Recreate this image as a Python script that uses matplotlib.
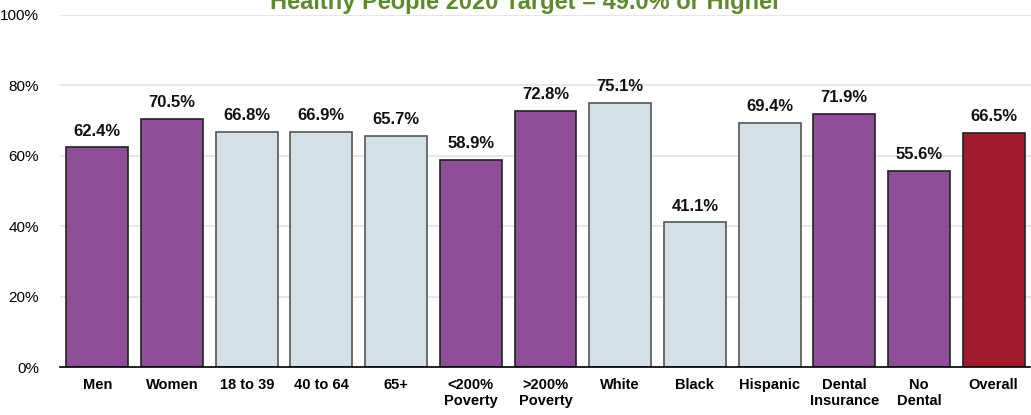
import matplotlib.pyplot as plt
import numpy as np

plt.rcParams['font.family'] = ['Liberation Sans', 'DejaVu Sans']

categories = ['Men', 'Women', '18 to 39', '40 to 64', '65+', '<200%\nPoverty',
              '>200%\nPoverty', 'White', 'Black', 'Hispanic', 'Dental\nInsurance',
              'No\nDental', 'Overall']
values = [62.4, 70.5, 66.8, 66.9, 65.7, 58.9, 72.8, 75.1, 41.1, 69.4, 71.9, 55.6, 66.5]
groups = ['p', 'p', 'b', 'b', 'b', 'p', 'p', 'b', 'b', 'b', 'p', 'p', 'r']

colors = {'p': '#8E4F98', 'b': '#D3E0E5', 'r': '#A11A2E'}
edges = {'p': '#222222', 'b': '#555555', 'r': '#222222'}

fig = plt.figure(figsize=(10.31, 4.15), dpi=100)
ax = fig.add_axes([60 / 1031, (415 - 367) / 415, (1031 - 60) / 1031, 352 / 415])

x = np.arange(len(categories))
ax.bar(x, values, width=0.83, color=[colors[g] for g in groups],
       edgecolor=[edges[g] for g in groups], linewidth=1.2, zorder=3)

for xi, v in zip(x, values):
    ax.text(xi, v + 2.5, f'{v:.1f}%', ha='center', va='bottom',
            fontsize=12, fontweight='bold', color='#111111')

ax.set_xlim(-0.5, len(categories) - 0.5)
ax.set_ylim(0, 100)
ax.set_yticks([0, 20, 40, 60, 80, 100])
ax.set_yticklabels(['0%', '20%', '40%', '60%', '80%', '100%'], fontsize=11)
ax.set_xticks(x)
ax.set_xticklabels(categories, fontsize=10.5, fontweight='bold')
ax.tick_params(axis='y', length=0, pad=15)
ax.tick_params(axis='x', length=0, pad=8)
ax.grid(axis='y', color='#E2E2E2', linewidth=1.2, zorder=0)

for s in ['left', 'right', 'top']:
    ax.spines[s].set_visible(False)
ax.spines['bottom'].set_color('black')
ax.spines['bottom'].set_linewidth(1.2)
ax.spines['bottom'].set_zorder(4)

# title sits partly above the top edge, as in the source image
fig.text(0.51, 1 - 9 / 415, 'Healthy People 2020 Target = 49.0% or Higher',
         ha='center', va='baseline', fontsize=17, fontweight='bold', color='#5E8B2A')

fig.savefig('out.png', dpi=100)
